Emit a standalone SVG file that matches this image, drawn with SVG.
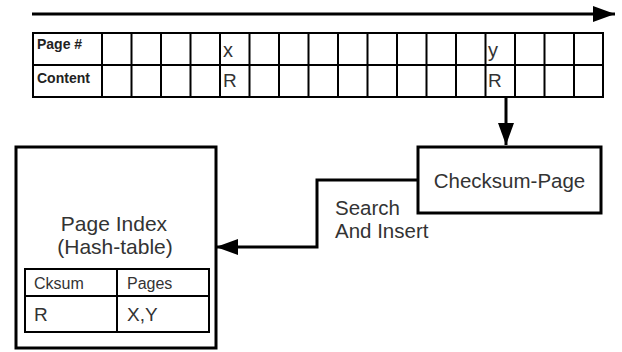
<svg xmlns="http://www.w3.org/2000/svg" width="622" height="352" viewBox="0 0 622 352">
  <style>
    .box { fill: #ffffff; stroke: #000000; stroke-width: 3; }
    .grid { fill: none; stroke: #000000; stroke-width: 2; }
    .wire { fill: none; stroke: #000000; stroke-width: 3; }
    .lbl { font-family: "Liberation Sans", Arial, sans-serif; fill: #333333; }
    .hdr { font-family: "Liberation Sans", Arial, sans-serif; font-weight: bold; font-size: 14px; fill: #222222; }
  </style>
  <defs>
    <marker id="head" markerUnits="userSpaceOnUse" markerWidth="24" markerHeight="16" viewBox="0 0 22 16" refX="22" refY="8" orient="auto">
      <path d="M0,0 L22,8 L0,16 Z" fill="#000000"/>
    </marker>
  </defs>
  <rect width="622" height="352" fill="#ffffff"/>

  <!-- timeline -->
  <g id="connectors">
    <line class="wire" x1="32" y1="14" x2="615" y2="14" marker-end="url(#head)"/>
    <line class="wire" x1="506" y1="97" x2="506" y2="145" marker-end="url(#head)"/>
    <polyline class="wire" points="418,180 317,180 317,247 216,247" marker-end="url(#head)"/>
    <text class="lbl" font-size="20.5" x="335" y="215">Search</text>
    <text class="lbl" font-size="20.5" x="335" y="238">And Insert</text>
  </g>

  <!-- page strip -->
  <g id="page-strip">
    <rect class="grid" x="33" y="33" width="570" height="64"/>
    <line class="grid" x1="33" y1="65" x2="603" y2="65"/>
    <path class="grid" d="M102,33V97 M131.5,33V97 M161,33V97 M190.5,33V97 M220,33V97 M249.5,33V97 M279,33V97 M308.5,33V97 M338,33V97 M367.5,33V97 M397,33V97 M426.5,33V97 M456,33V97 M485.5,33V97 M515,33V97 M544.5,33V97 M574,33V97"/>
    <text class="hdr" x="37" y="49">Page #</text>
    <text class="hdr" x="37" y="83">Content</text>
    <text class="lbl" font-size="20" x="223" y="57">x</text>
    <text class="lbl" font-size="19" x="223" y="87">R</text>
    <text class="lbl" font-size="20" x="488" y="57">y</text>
    <text class="lbl" font-size="19" x="488" y="87">R</text>
  </g>

  <!-- checksum step -->
  <g id="checksum-page">
    <rect class="box" x="418" y="147" width="183" height="66"/>
    <text class="lbl" font-size="20.5" x="509.5" y="188" text-anchor="middle">Checksum-Page</text>
  </g>

  <!-- page index -->
  <g id="page-index">
    <rect class="box" x="16" y="147" width="200" height="201"/>
    <text class="lbl" font-size="21" x="114" y="231" text-anchor="middle">Page Index</text>
    <text class="lbl" font-size="21" x="115" y="254" text-anchor="middle">(Hash-table)</text>
    <rect class="grid" x="25" y="269" width="184" height="63"/>
    <line class="grid" x1="25" y1="296" x2="209" y2="296"/>
    <line class="grid" x1="117" y1="269" x2="117" y2="332"/>
    <text class="lbl" font-size="16" x="34" y="289">Cksum</text>
    <text class="lbl" font-size="16" x="127" y="289">Pages</text>
    <text class="lbl" font-size="19" x="34" y="321">R</text>
    <text class="lbl" font-size="19" x="127" y="321">X,Y</text>
  </g>
</svg>
